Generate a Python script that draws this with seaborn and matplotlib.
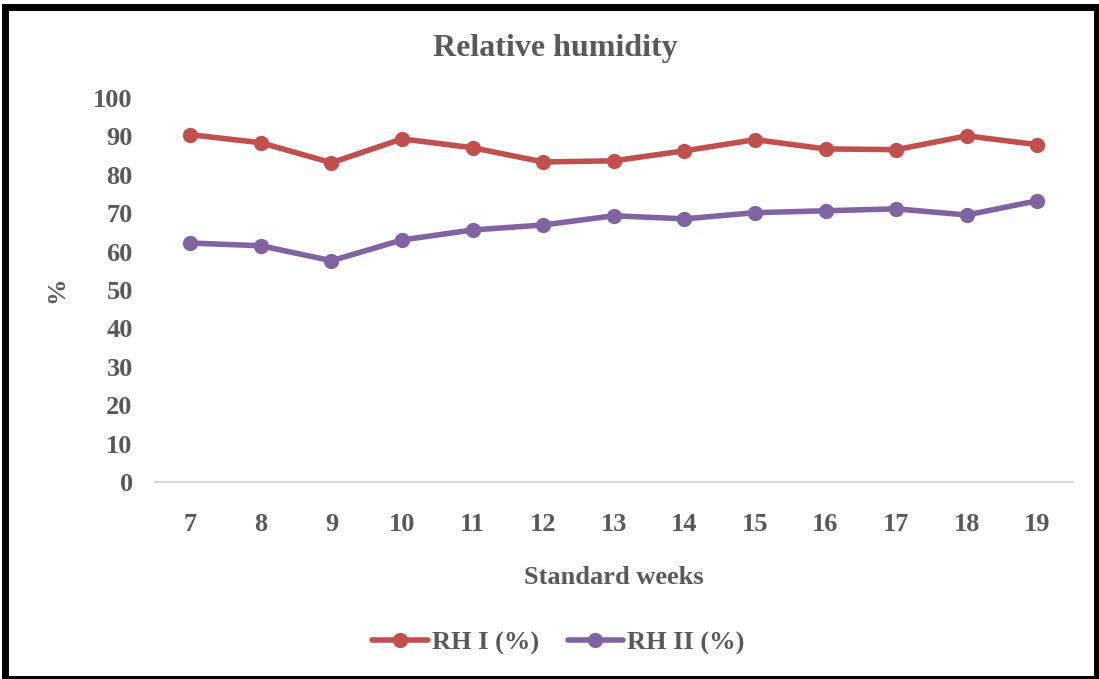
import matplotlib
matplotlib.use("Agg")
import matplotlib.pyplot as plt
import seaborn as sns
import pandas as pd
from matplotlib.patches import Rectangle

weeks = [7, 8, 9, 10, 11, 12, 13, 14, 15, 16, 17, 18, 19]
rh1 = [90.4, 88.3, 83.1, 89.3, 87.0, 83.3, 83.6, 86.2, 89.1, 86.7, 86.5, 90.1, 87.8]
rh2 = [62.2, 61.5, 57.6, 63.0, 65.6, 66.9, 69.3, 68.5, 70.1, 70.6, 71.1, 69.5, 73.2]
series_names = ["RH I (%)", "RH II (%)"]

df = pd.DataFrame({
    "week": weeks * 2,
    "value": rh1 + rh2,
    "series": [series_names[0]] * len(weeks) + [series_names[1]] * len(weeks),
})

sns.set_style("white")
plt.rcParams['font.family'] = ['Liberation Serif', 'DejaVu Serif']
grey = "#595959"

fig = plt.figure(figsize=(10.99, 6.79), dpi=100)
ax = fig.add_axes([0.141, 0.290, 0.835, 0.566])

sns.lineplot(data=df, x="week", y="value", hue="series", marker="o",
             palette=["#C0504D", "#8064A2"], linewidth=4, markersize=11,
             markeredgewidth=0, ax=ax)

ax.set_xlim(6.5, 19.5)
ax.set_ylim(0, 100)
ax.set_xticks(weeks)
ax.set_yticks(range(0, 101, 10))
ax.tick_params(axis="both", length=0, labelsize=19, labelcolor=grey)
for lab in ax.get_xticklabels() + ax.get_yticklabels():
    lab.set_fontweight("bold")
ax.tick_params(axis="y", pad=16)
ax.tick_params(axis="x", pad=22)

for s in ["top", "right", "left"]:
    ax.spines[s].set_visible(False)
ax.spines["bottom"].set_color("#d9d9d9")
ax.spines["bottom"].set_linewidth(1.5)

ax.set_xlabel("Standard weeks", fontsize=19, fontweight="bold", color=grey, labelpad=22)
ax.set_ylabel("%", fontsize=19, fontweight="bold", color=grey, labelpad=18)
fig.text(0.505, 0.928, "Relative humidity", ha="center", va="center",
         fontsize=23, fontweight="bold", color=grey)

leg = ax.legend(loc="center", bbox_to_anchor=(0.508, 0.053), bbox_transform=fig.transFigure,
                ncol=2, frameon=False,
                prop={"family": "Liberation Serif", "weight": "bold", "size": 19},
                handlelength=2.1, columnspacing=1.1, handletextpad=0.15)
for t in leg.get_texts():
    t.set_color(grey)

fig.patches.append(Rectangle((0.005, 0.0), 0.993, 0.99, transform=fig.transFigure,
                             fill=False, edgecolor="black", linewidth=5))

fig.savefig("out.png", dpi=100)
